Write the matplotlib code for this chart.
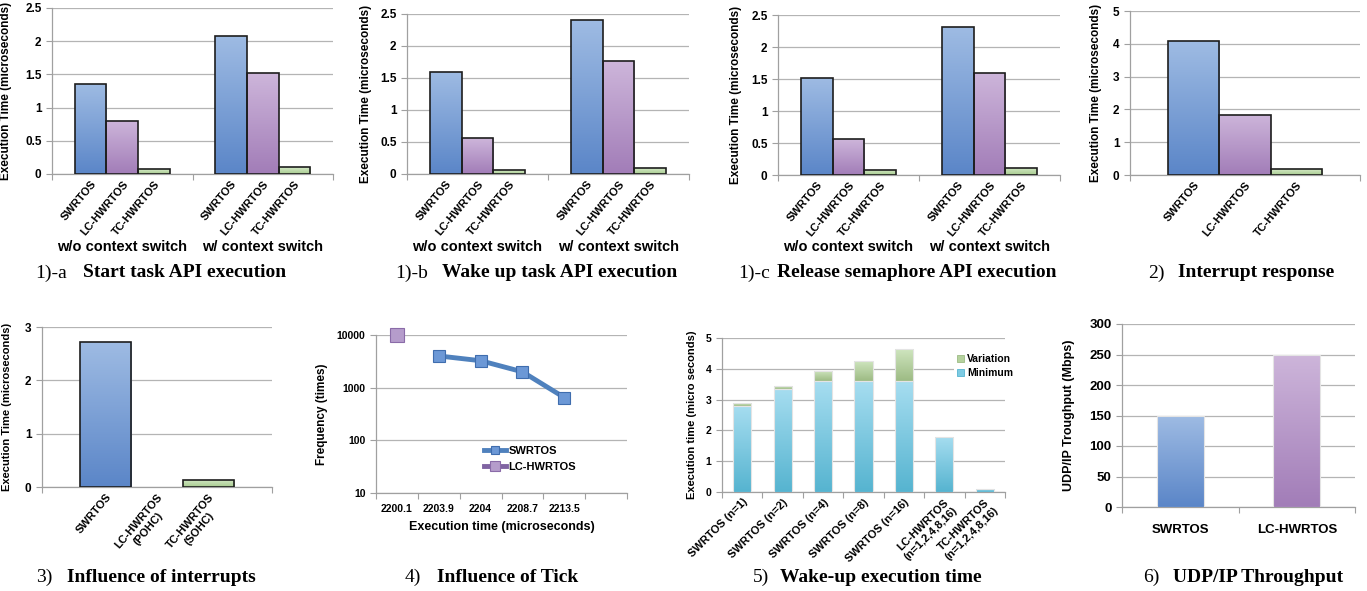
import numpy as np
import matplotlib
matplotlib.use("Agg")
import matplotlib.pyplot as plt
from matplotlib.colors import LinearSegmentedColormap
from matplotlib.transforms import blended_transform_factory
from matplotlib.patches import Patch

plt.rcParams['font.family'] = ['Liberation Sans', 'DejaVu Sans']
plt.rcParams['font.weight'] = 'bold'

W, H = 1367, 591

# ---- data ----
rtos3 = ['SWRTOS', 'LC-HWRTOS', 'TC-HWRTOS']
groups = ['w/o context switch', 'w/ context switch']
start_task = [[1.36, 0.80, 0.07], [2.08, 1.52, 0.10]]
wake_task = [[1.60, 0.56, 0.06], [2.40, 1.76, 0.09]]
release_sem = [[1.52, 0.56, 0.08], [2.32, 1.60, 0.11]]
irq_resp = [4.08, 1.84, 0.17]

irq_labels = ['SWRTOS', 'LC-HWRTOS\n(POHC)', 'TC-HWRTOS\n(SOHC)']
irq_infl = [2.72, 0.0, 0.14]

exec_times = ['2200.1', '2203.9', '2204', '2208.7', '2213.5']
sw_freq = [np.nan, 4000, 3250, 2000, 650]
lc_freq = [10000, np.nan, np.nan, np.nan, np.nan]

wake_labels = ['SWRTOS (n=1)', 'SWRTOS (n=2)', 'SWRTOS (n=4)', 'SWRTOS (n=8)',
               'SWRTOS (n=16)', 'LC-HWRTOS\n(n=1,2,4,8,16)', 'TC-HWRTOS\n(n=1,2,4,8,16)']
wake_min = [2.80, 3.35, 3.59, 3.59, 3.59, 1.79, 0.10]
wake_var = [0.09, 0.09, 0.35, 0.66, 1.05, 0.0, 0.0]

udp_labels = ['SWRTOS', 'LC-HWRTOS']
udp_tput = [150, 250]

BLUE = ('#9EBBE3', '#5B86C8')
PURPLE = ('#CDB5DA', '#A27DB8')
GREEN = ('#D4E9C6', '#A8CC90')
CYAN = ('#A6DDF0', '#56B4D0')
VAR = ('#D0E6C0', '#9DBB84')
GRID = '#B4B4B4'
SPINE = '#A0A0A0'

fig = plt.figure(figsize=(W / 100, H / 100), dpi=100)


def add_ax(l, r, t, b):
    return fig.add_axes([l / W, 1 - b / H, (r - l) / W, (b - t) / H])


def style(ax, ylab, lab_px, l, r, fs=8.5, lfs=8.5):
    for s in ['top', 'right']:
        ax.spines[s].set_visible(False)
    for s in ['left', 'bottom']:
        ax.spines[s].set_color(SPINE)
        ax.spines[s].set_linewidth(0.9)
    ax.yaxis.grid(True, color=GRID, lw=0.9)
    ax.set_axisbelow(True)
    ax.tick_params(axis='y', colors=SPINE, labelcolor='black', labelsize=fs, length=4, width=0.8)
    ax.tick_params(axis='x', which='major', length=0)
    ax.tick_params(axis='x', which='minor', length=4, color=SPINE, width=0.8)
    for t in ax.get_yticklabels():
        t.set_fontweight('bold')
    ax.set_ylabel(ylab, fontsize=lfs, fontweight='bold')
    ax.yaxis.set_label_coords((lab_px - l) / (r - l), 0.5)


def grad_bars(ax, bars, colors, edge=None, lw=1.2):
    cmap = LinearSegmentedColormap.from_list('g', [colors[1], colors[0]])
    grad = np.linspace(0, 1, 64).reshape(-1, 1)
    for p in bars:
        x, y, w, h = p.get_x(), p.get_y(), p.get_width(), p.get_height()
        if h == 0:
            p.set_visible(False)
            continue
        p.set_facecolor('none')
        if edge is None:
            p.set_edgecolor('#E4E4E4')
            p.set_linewidth(0.8)
        else:
            p.set_edgecolor(edge)
            p.set_linewidth(lw)
        im = ax.imshow(grad, extent=[x, x + w, y, y + h], origin='lower', cmap=cmap,
                       aspect='auto', zorder=p.get_zorder() - 0.1, interpolation='bilinear')
        im.set_clip_path(p)


def caption(x_num, x_title, y, num, title):
    fig.text(x_num / W, 1 - y / H, num, fontsize=14, fontfamily='Liberation Serif',
             fontweight='normal', va='center', ha='left')
    fig.text(x_title / W, 1 - y / H, title, fontsize=14, fontfamily='Liberation Serif',
             fontweight='bold', va='center', ha='left')


def api_panel(rect, vals, lab_px, cap):
    l, r, t, b = rect
    ax = add_ax(l, r, t, b)
    w = 0.225
    cols = [BLUE, PURPLE, GREEN]
    pos_all, lab_all = [], []
    for k in range(3):
        xs = np.arange(2) + (k - 1) * w
        bars = ax.bar(xs, [vals[g][k] for g in range(2)], width=w, zorder=3)
        grad_bars(ax, bars, cols[k], edge='#1E1E1E')
        pos_all += list(xs)
        lab_all += [rtos3[k]] * 2
    ax.set_xlim(-0.5, 1.5)
    ax.set_ylim(0, 2.5)
    ax.set_yticks([0, 0.5, 1, 1.5, 2, 2.5], ['0', '0.5', '1', '1.5', '2', '2.5'])
    ax.set_xticks(pos_all, lab_all, rotation=50, ha='right', rotation_mode='anchor',
                  fontsize=8, fontweight='bold')
    ax.set_xticks([-0.5, 0.5, 1.5], minor=True)
    style(ax, 'Execution Time (microseconds)', lab_px, l, r)
    tr = blended_transform_factory(ax.transData, fig.transFigure)
    for g, name in enumerate(groups):
        ax.text(g, 1 - 247 / H, name, transform=tr, ha='center', va='center',
                fontsize=10.5, fontweight='bold')
    caption(*cap)
    return ax


api_panel((52, 333, 8, 174), start_task, 12, (35, 83, 273, '1)-a', 'Start task API execution'))
api_panel((407, 689, 14, 174), wake_task, 372, (395, 442, 273, '1)-b', 'Wake up task API execution'))
api_panel((778, 1060, 15, 175), release_sem, 742, (738, 777, 273, '1)-c', 'Release semaphore API execution'))

# ---- 2) interrupt response ----
l, r, t, b = 1130, 1360, 11, 175
ax = add_ax(l, r, t, b)
xs = np.arange(3) - 1
bars = ax.bar(xs, irq_resp, width=1.0, zorder=3)
for p, c in zip(bars, [BLUE, PURPLE, GREEN]):
    grad_bars(ax, [p], c, edge='#1E1E1E')
ax.set_xlim(-2.25, 2.25)
ax.set_ylim(0, 5)
ax.set_yticks(range(6))
ax.set_xticks(xs, rtos3, rotation=50, ha='right', rotation_mode='anchor', fontsize=8, fontweight='bold')
ax.set_xticks([-2.25, 2.25], minor=True)
style(ax, 'Execution Time (microseconds)', 1102, l, r)
caption(1148, 1178, 273, '2)', 'Interrupt response')

# ---- 3) influence of interrupts ----
l, r, t, b = 42, 272, 327, 487
ax = add_ax(l, r, t, b)
bars = ax.bar(xs, irq_infl, width=1.0, zorder=3)
for p, c in zip(bars, [BLUE, PURPLE, GREEN]):
    grad_bars(ax, [p], c, edge='#1E1E1E')
ax.set_xlim(-2.25, 2.25)
ax.set_ylim(0, 3)
ax.set_yticks(range(4))
ax.set_xticks(xs, irq_labels, rotation=50, ha='right', rotation_mode='anchor', fontsize=8,
              fontweight='bold', multialignment='center')
ax.set_xticks([-2.25, 2.25], minor=True)
style(ax, 'Execution Time (microseconds)', 12, l, r, lfs=8)
caption(36, 67, 577, '3)', 'Influence of interrupts')

# ---- 4) influence of tick ----
l, r, t, b = 376, 627, 335, 493
ax = add_ax(l, r, t, b)
xi = np.arange(len(exec_times))
ax.plot(xi, sw_freq, color='#4F81BD', lw=3.5, marker='s', ms=8, mfc='#6C98D6',
        mec='#3F6DAE', mew=0.8, label='SWRTOS', zorder=3, clip_on=False)
ax.plot(xi, lc_freq, color='#8064A2', lw=3.5, marker='s', ms=10, mfc='#B59CCB',
        mec='#8A6BA8', mew=0.8, label='LC-HWRTOS', zorder=3, clip_on=False)
ax.set_yscale('log')
ax.set_ylim(10, 10000)
ax.set_yticks([10, 100, 1000, 10000], ['10', '100', '1000', '10000'])
ax.yaxis.set_minor_locator(plt.NullLocator())
ax.set_xlim(-0.5, 5.5)
ax.set_xticks(xi, exec_times, fontsize=7.5, fontweight='bold')
ax.set_xticks(np.arange(-0.5, 6, 1), minor=True)
style(ax, 'Frequency (times)', 328, l, r, fs=7.5, lfs=8.5)
ax.tick_params(axis='y', which='minor', length=0)
ax.tick_params(axis='x', which='major', pad=8)
ax.set_xlabel('Execution time (microseconds)', fontsize=9, fontweight='bold', labelpad=5)
ax.legend(loc='upper left', bbox_to_anchor=(0.39, 0.36), frameon=False,
          prop={'size': 8, 'weight': 'bold'}, handlelength=2.0, labelspacing=0.5,
          handletextpad=0.2, markerscale=0.7)
caption(405, 437, 577, '4)', 'Influence of Tick')

# ---- 5) wake-up execution time ----
l, r, t, b = 722, 1005, 338, 492
ax = add_ax(l, r, t, b)
xw = np.arange(len(wake_labels))
bmin = ax.bar(xw, wake_min, width=0.45, zorder=3, label='Minimum')
grad_bars(ax, bmin, CYAN)
bvar = ax.bar(xw, wake_var, width=0.45, bottom=wake_min, zorder=3, label='Variation')
grad_bars(ax, bvar, VAR)
ax.set_xlim(-0.5, 6.5)
ax.set_ylim(0, 5)
ax.set_yticks(range(6))
ax.set_xticks(xw, wake_labels, rotation=45, ha='right', rotation_mode='anchor',
              fontsize=8, fontweight='bold', multialignment='center')
ax.set_xticks(np.arange(-0.5, 7, 1), minor=True)
style(ax, 'Execution time (micro seconds)', 697, l, r, fs=7.5, lfs=8)
handles = [Patch(facecolor='#B5D29E', edgecolor='#9DBB84', lw=0.6),
           Patch(facecolor='#7DCBE3', edgecolor='#56B4D0', lw=0.6)]
ax.legend(handles, ['Variation', 'Minimum'], loc='upper left', bbox_to_anchor=(0.80, 0.95),
          frameon=True, facecolor='white', edgecolor='none', framealpha=1,
          prop={'size': 7.5, 'weight': 'bold'}, handlelength=0.7, handleheight=0.7,
          handletextpad=0.3, labelspacing=0.4, borderpad=0.3)
caption(753, 780, 577, '5)', 'Wake-up execution time')

# ---- 6) UDP/IP throughput ----
l, r, t, b = 1122, 1355, 324, 507
ax = add_ax(l, r, t, b)
xu = np.arange(len(udp_labels))
bars = ax.bar(xu, udp_tput, width=0.4, zorder=3)
for p, c in zip(bars, [BLUE, PURPLE]):
    grad_bars(ax, [p], c)
ax.set_xlim(-0.5, 1.5)
ax.set_ylim(0, 300)
ax.set_yticks(range(0, 301, 50))
ax.set_xticks(xu, udp_labels, fontsize=9.5, fontweight='bold')
ax.set_xticks([-0.5, 0.5, 1.5], minor=True)
style(ax, 'UDP/IP Troughput (Mbps)', 1075, l, r, fs=9.5, lfs=9)
ax.tick_params(axis='x', which='major', pad=12)
caption(1143, 1173, 577, '6)', 'UDP/IP Throughput')

fig.savefig('out.png', dpi=100)
